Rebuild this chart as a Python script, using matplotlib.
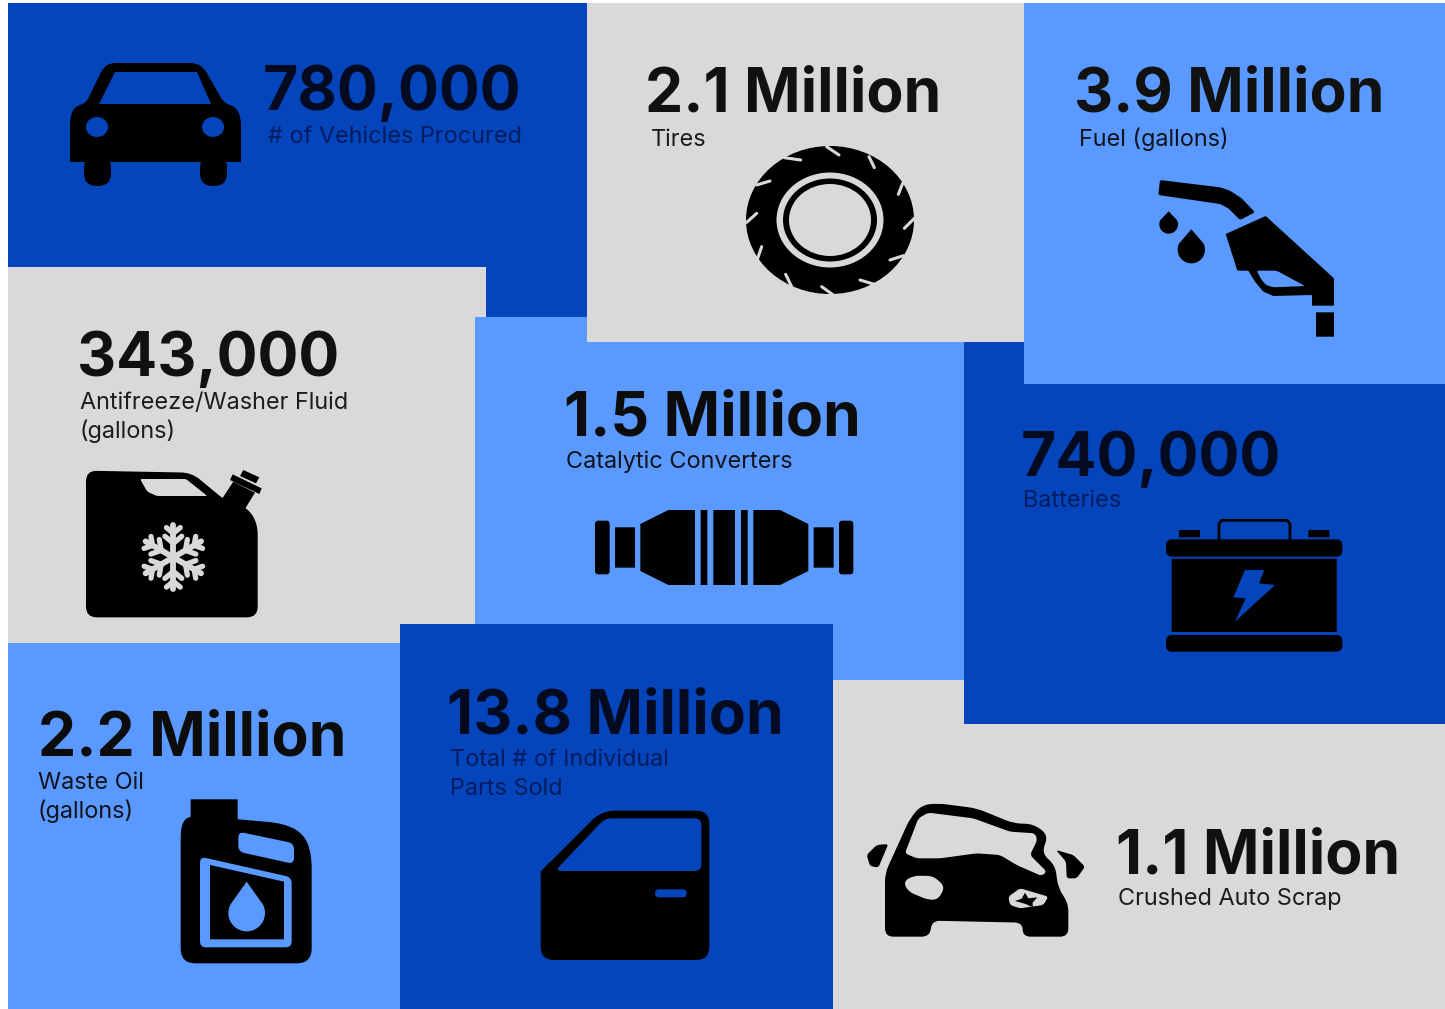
import matplotlib
matplotlib.use('Agg')
import matplotlib.pyplot as plt
import numpy as np
from matplotlib.patches import Ellipse, PathPatch, Rectangle
from matplotlib.path import Path

DARK = '#0445bb'
LIGHT = '#5a99ff'
GRAY = '#d9d9d9'
BLACK = '#000000'

values = ['780,000', '2.1 Million', '3.9 Million', '343,000', '1.5 Million',
          '740,000', '2.2 Million', '13.8 Million', '1.1 Million']
captions = [['# of Vehicles Procured'], ['Tires'], ['Fuel (gallons)'],
            ['Antifreeze/Washer Fluid', '(gallons)'], ['Catalytic Converters'],
            ['Batteries'], ['Waste Oil', '(gallons)'],
            ['Total # of Individual', 'Parts Sold'], ['Crushed Auto Scrap']]

# left, top, right, bottom in pixels, in drawing order
panels = [(8, 3, 587, 320, DARK), (8, 267, 486, 643, GRAY),
          (475, 317, 964, 680, LIGHT), (587, 3, 1024, 342, GRAY),
          (833, 680, 1445, 1009, GRAY), (964, 342, 1445, 724, DARK),
          (1024, 3, 1445, 384, LIGHT), (8, 643, 400, 1009, LIGHT),
          (400, 624, 833, 1009, DARK)]

# x, value baseline, caption x, first caption baseline, caption colour
text_pos = [(263, 110, 268, 143, '#021c5e'), (645, 111, 651, 146, '#1c1c1c'),
            (1074, 111, 1079, 146, '#10131c'), (77, 376, 80, 409, '#1c1c1c'),
            (564, 435, 566, 468, '#10131c'), (1021, 476, 1023, 507, '#021c5e'),
            (38, 756, 38, 789, '#10131c'), (447, 733, 450, 766, '#021c5e'),
            (1116, 873, 1118, 905, '#1c1c1c')]
value_colors = ['#040a20', '#111111', '#111111', '#111111', '#0c0c0c',
                '#040a20', '#0c0c0c', '#040a20', '#111111']

plt.rcParams['font.family'] = ['Inter', 'DejaVu Sans']

fig = plt.figure(figsize=(14.45, 10.09), dpi=100)
ax = fig.add_axes([0, 0, 1, 1])
ax.set_xlim(0, 1445)
ax.set_ylim(1009, 0)
ax.axis('off')


def shape(origin, pts, color=BLACK, r=0, sx=3.0, sy=3.0):
    """polygon given in zoomed icon coords, corners rounded by radius r"""
    p = np.array(pts, dtype=float)
    p = p / [sx, sy] + origin
    n = len(p)
    verts, codes = [], []
    for i in range(n):
        prev, cur, nxt = p[i - 1], p[i], p[(i + 1) % n]
        d1 = np.linalg.norm(prev - cur)
        d2 = np.linalg.norm(nxt - cur)
        r1 = min(r / sx, d1 / 2)
        r2 = min(r / sx, d2 / 2)
        a = cur + (prev - cur) / d1 * r1
        b = cur + (nxt - cur) / d2 * r2
        verts.append(a)
        codes.append(Path.MOVETO if i == 0 else Path.LINETO)
        verts += [cur, b]
        codes += [Path.CURVE3, Path.CURVE3]
    verts.append(verts[0])
    codes.append(Path.CLOSEPOLY)
    ax.add_patch(PathPatch(Path(verts, codes), fc=color, ec='none', lw=0, zorder=3))


def box(origin, x0, y0, x1, y1, color=BLACK, r=0):
    shape(origin, [(x0, y0), (x1, y0), (x1, y1), (x0, y1)], color, r)


def drop(origin, tip, center, rad, color=BLACK):
    t = np.radians(np.linspace(-28, 208, 40))
    arc = [(center[0] + rad * np.cos(a), center[1] + rad * np.sin(a)) for a in t]
    shape(origin, [tip] + arc, color)


def draw_car():
    o = (0, 0)
    kw = dict(sx=1.0, sy=1.0)
    shape(o, [(70, 150), (70, 118), (74, 107), (86, 103), (103, 68), (110, 63), (196, 63),
              (204, 68), (224, 103), (236, 107), (241, 118), (241, 150)], r=6, **kw)
    shape(o, [(70, 140), (241, 140), (241, 162), (70, 162)], **kw)
    shape(o, [(84, 155), (111, 155), (111, 186), (84, 186)], r=13, **kw)
    shape(o, [(200, 155), (227, 155), (227, 186), (200, 186)], r=13, **kw)
    shape(o, [(115, 72), (197, 72), (211, 104), (99, 104)], DARK, **kw)
    ax.add_patch(Ellipse((97, 127), 22, 20, fc=DARK, ec='none', zorder=4))
    ax.add_patch(Ellipse((213, 127), 22, 20, fc=DARK, ec='none', zorder=4))


def draw_tire():
    o = np.array((735, 135))
    c = o + np.array((285, 255)) / 3
    ax.add_patch(Ellipse(c, 168, 148, fc=BLACK, ec='none', zorder=3))
    ax.add_patch(Ellipse(c, 107, 95, fc=GRAY, ec='none', zorder=3))
    ax.add_patch(Ellipse(c, 94, 83, fc=BLACK, ec='none', zorder=3))
    ax.add_patch(Ellipse(c, 82, 72, fc=GRAY, ec='none', zorder=3))
    treads = [((275, 35), (312, 60)), ((148, 68), (197, 75)), ((402, 65), (418, 98)),
              ((65, 150), (105, 138)), ((503, 145), (490, 178)), ((35, 262), (65, 235)),
              ((538, 250), (508, 280)), ((80, 335), (68, 370)), ((465, 375), (505, 362)),
              ((152, 418), (170, 455)), ((375, 435), (425, 450)), ((260, 455), (295, 480))]
    for a, b in treads:
        ax.plot([o[0] + a[0] / 3, o[0] + b[0] / 3], [o[1] + a[1] / 3, o[1] + b[1] / 3],
                color=GRAY, lw=2.2, solid_capstyle='round', zorder=4)


def draw_nozzle():
    o = (1130, 170)
    shape(o, [(90, 30), (85, 75), (270, 102), (295, 115), (330, 150), (375, 127),
              (335, 85), (300, 62), (270, 52)], r=6)
    shape(o, [(287, 192), (407, 138), (612, 325), (612, 407), (546, 407), (546, 375),
              (430, 378), (400, 365), (375, 335), (355, 302), (322, 302)], r=3)
    shape(o, [(380, 302), (440, 302), (525, 348), (430, 352), (408, 345), (395, 330)], LIGHT, r=6)
    box(o, 558, 427, 612, 500)
    drop(o, (116, 124), (116, 163), 28)
    drop(o, (184, 178), (184, 239), 41)


def draw_jug():
    o = np.array((60, 460))
    shape(o, [(78, 32), (395, 38), (500, 125), (560, 140), (593, 190), (593, 472), (78, 472)], r=32)
    shape(o, [(240, 57), (378, 57), (442, 108), (290, 108), (262, 95)], GRAY, r=6)
    shape(o, [(485, 118), (520, 65), (585, 98), (550, 155)])
    shape(o, [(518, 43), (605, 85), (598, 102), (510, 60)])
    shape(o, [(550, 30), (598, 52), (588, 70), (540, 48)])
    c = o + np.array((340, 292)) / 3
    for k in range(6):
        a = np.radians(90 + 60 * k)
        d = np.array((np.cos(a), np.sin(a)))
        ax.plot([c[0], c[0] + d[0] * 32], [c[1], c[1] + d[1] * 32], color=GRAY, lw=4.2,
                solid_capstyle='round', zorder=4)
        for dist, size in [(14, 11), (24, 9)]:
            base = c + d * dist
            for s in (-1, 1):
                b = a + s * np.radians(50)
                tip = base + size * np.array((np.cos(b), np.sin(b)))
                ax.plot([base[0], tip[0]], [base[1], tip[1]], color=GRAY, lw=3.8,
                        solid_capstyle='round', zorder=4)


def draw_converter():
    o = (585, 500)
    box(o, 30, 62, 74, 223, r=10)
    box(o, 90, 82, 150, 203)
    shape(o, [(166, 72), (250, 30), (330, 30), (330, 255), (250, 255), (166, 213)])
    box(o, 347, 30, 367, 255)
    box(o, 385, 30, 450, 255)
    box(o, 468, 30, 488, 255)
    shape(o, [(505, 30), (585, 30), (670, 72), (670, 213), (585, 255), (505, 255)])
    box(o, 686, 82, 746, 203)
    box(o, 762, 62, 805, 223, r=10)


def draw_battery():
    o = np.array((1155, 510))
    box(o, 72, 60, 135, 82)
    box(o, 460, 60, 523, 82)
    xs = o[0] + np.array((192, 192, 200, 397, 405, 405)) / 3
    ys = o[1] + np.array((90, 42, 31, 31, 42, 90)) / 3
    ax.plot(xs, ys, color=BLACK, lw=2.0, solid_joinstyle='round', zorder=3)
    box(o, 33, 88, 562, 140, r=18)
    box(o, 50, 146, 545, 366)
    box(o, 33, 375, 562, 425, r=18)
    shape(o, [(270, 180), (328, 180), (312, 220), (360, 225), (240, 335), (272, 265), (235, 262)], DARK)


def draw_oil():
    o = (170, 790)
    shape(o, [(32, 100), (62, 75), (340, 100), (400, 130), (425, 190), (425, 520),
              (32, 520)], r=45)
    box(o, 62, 28, 203, 110)
    shape(o, [(205, 125), (372, 160), (372, 222), (205, 185)], LIGHT, r=18)
    shape(o, [(90, 200), (365, 262), (365, 472), (90, 472)], LIGHT, r=18)
    shape(o, [(120, 225), (342, 275), (342, 448), (120, 448)])
    drop(o, (230, 275), (230, 369), 55, LIGHT)


def draw_door():
    o = (530, 800)
    shape(o, [(32, 215), (215, 32), (538, 32), (538, 480), (32, 480)], r=40)
    shape(o, [(32, 215), (60, 185), (60, 240), (32, 240)])
    shape(o, [(75, 213), (225, 55), (514, 55), (514, 213)], DARK, r=20)
    box(o, 375, 268, 470, 292, DARK, r=12)


def draw_crashed_car():
    o = (850, 790)
    shape(o, [(105, 250), (180, 85), (215, 45), (265, 40), (380, 55), (490, 100), (550, 102),
              (595, 135), (575, 190), (615, 225), (625, 295), (655, 340), (655, 440), (518, 440),
              (518, 398), (245, 392), (240, 440), (105, 440)], r=25)
    shape(o, [(165, 190), (205, 85), (235, 68), (370, 85), (480, 125), (555, 130), (562, 150),
              (540, 195), (590, 245), (575, 258), (500, 225), (450, 195), (380, 190), (270, 205),
              (200, 205)], GRAY, r=10)
    shape(o, [(160, 275), (190, 257), (250, 258), (285, 290), (265, 328), (235, 330), (175, 305)], GRAY, r=18)
    shape(o, [(475, 320), (510, 295), (595, 320), (580, 345), (510, 355), (480, 345)], GRAY, r=8)
    shape(o, [(525, 308), (535, 325), (562, 322), (548, 338), (548, 352), (527, 342), (495, 333), (515, 326)])
    shape(o, [(115, 162), (80, 165), (50, 195), (60, 228), (85, 233)], r=8)
    shape(o, [(618, 180), (670, 195), (705, 230), (680, 265), (650, 265), (648, 215)], r=8)


for left, top, right, bottom, color in panels:
    ax.add_patch(Rectangle((left, top), right - left, bottom - top, fc=color, ec='none', zorder=1))

for value, caption, pos, value_color in zip(values, captions, text_pos, value_colors):
    x, y, cx, cy, ccolor = pos
    ax.text(x, y, value, fontsize=43.7, fontweight='bold', color=value_color,
            va='baseline', ha='left', zorder=5)
    for i, line in enumerate(caption):
        ax.text(cx, cy + i * 29, line, fontsize=16.9, color=ccolor,
                va='baseline', ha='left', zorder=5)

draw_car()
draw_tire()
draw_nozzle()
draw_jug()
draw_converter()
draw_battery()
draw_oil()
draw_door()
draw_crashed_car()

fig.savefig('out.png', dpi=100)
